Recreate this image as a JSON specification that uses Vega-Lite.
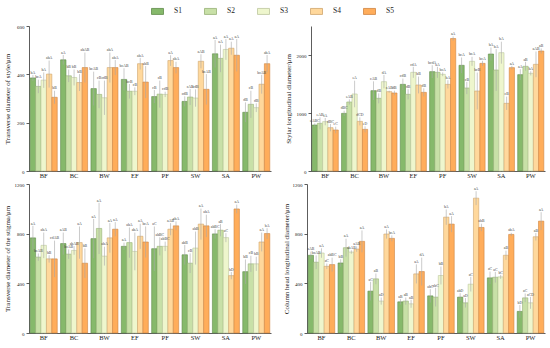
{
"$schema": "https://vega.github.io/schema/vega-lite/v6.json",
"padding": {"left": 3, "top": 4, "right": 2, "bottom": 2},
"config": {
  "font": "Liberation Serif",
  "view": {"stroke": null},
  "axis": {"grid": false, "domainColor": "#333", "tickColor": "#333", "labelColor": "#222", "titleColor": "#222", "labelFontSize": 5, "titleFontSize": 7, "titleFontWeight": "normal", "tickSize": 3, "labelPadding": 2, "domainWidth": 0.8, "tickWidth": 0.8},
  "legend": {"title": null}
},
"datasets": {
"tl": [
{"c":"BF","s":"S1","v":385,"lo":373,"hi":397,"l":"bA"},
{"c":"BF","s":"S2","v":350,"lo":322,"hi":378,"l":"bcA"},
{"c":"BF","s":"S3","v":376,"lo":344,"hi":408,"l":"bA"},
{"c":"BF","s":"S4","v":401,"lo":345,"hi":457,"l":"abA"},
{"c":"BF","s":"S5","v":305,"lo":278,"hi":332,"l":"bB"},
{"c":"BC","s":"S1","v":460,"lo":440,"hi":480,"l":"aA"},
{"c":"BC","s":"S2","v":394,"lo":368,"hi":420,"l":"bB"},
{"c":"BC","s":"S3","v":387,"lo":354,"hi":420,"l":"bB"},
{"c":"BC","s":"S4","v":366,"lo":331,"hi":401,"l":"bB"},
{"c":"BC","s":"S5","v":428,"lo":366,"hi":490,"l":"abAB"},
{"c":"BW","s":"S1","v":341,"lo":271,"hi":411,"l":"bcAB"},
{"c":"BW","s":"S2","v":317,"lo":260,"hi":374,"l":"cB"},
{"c":"BW","s":"S3","v":303,"lo":232,"hi":374,"l":"cdB"},
{"c":"BW","s":"S4","v":428,"lo":366,"hi":490,"l":"abA"},
{"c":"BW","s":"S5","v":428,"lo":397,"hi":459,"l":"abA"},
{"c":"EF","s":"S1","v":379,"lo":333,"hi":425,"l":"bcAB"},
{"c":"EF","s":"S2","v":330,"lo":300,"hi":360,"l":"bcB"},
{"c":"EF","s":"S3","v":330,"lo":314,"hi":346,"l":"cB"},
{"c":"EF","s":"S4","v":444,"lo":420,"hi":468,"l":"abA"},
{"c":"EF","s":"S5","v":368,"lo":302,"hi":434,"l":"abB"},
{"c":"PF","s":"S1","v":308,"lo":281,"hi":335,"l":"cB"},
{"c":"PF","s":"S2","v":318,"lo":262,"hi":374,"l":"cB"},
{"c":"PF","s":"S3","v":317,"lo":306,"hi":328,"l":"cdB"},
{"c":"PF","s":"S4","v":457,"lo":435,"hi":479,"l":"aA"},
{"c":"PF","s":"S5","v":428,"lo":404,"hi":452,"l":"abA"},
{"c":"SW","s":"S1","v":288,"lo":267,"hi":309,"l":"cdB"},
{"c":"SW","s":"S2","v":306,"lo":273,"hi":339,"l":"cAB"},
{"c":"SW","s":"S3","v":302,"lo":266,"hi":338,"l":"cdB"},
{"c":"SW","s":"S4","v":454,"lo":425,"hi":483,"l":"aAB"},
{"c":"SW","s":"S5","v":338,"lo":275,"hi":401,"l":"bcAB"},
{"c":"SA","s":"S1","v":485,"lo":428,"hi":542,"l":"aA"},
{"c":"SA","s":"S2","v":466,"lo":409,"hi":523,"l":"aA"},
{"c":"SA","s":"S3","v":503,"lo":460,"hi":546,"l":"aA"},
{"c":"SA","s":"S4","v":508,"lo":481,"hi":535,"l":"aA"},
{"c":"SA","s":"S5","v":479,"lo":412,"hi":546,"l":"aA"},
{"c":"PW","s":"S1","v":243,"lo":202,"hi":284,"l":"dB"},
{"c":"PW","s":"S2","v":276,"lo":220,"hi":332,"l":"cB"},
{"c":"PW","s":"S3","v":262,"lo":244,"hi":280,"l":"dB"},
{"c":"PW","s":"S4","v":359,"lo":320,"hi":398,"l":"bcAB"},
{"c":"PW","s":"S5","v":444,"lo":408,"hi":480,"l":"abA"}
],
"tr": [
{"c":"BF","s":"S1","v":793,"lo":764,"hi":822,"l":"eABC"},
{"c":"BF","s":"S2","v":822,"lo":719,"hi":925,"l":"eAB"},
{"c":"BF","s":"S3","v":851,"lo":788,"hi":914,"l":"fA"},
{"c":"BF","s":"S4","v":747,"lo":684,"hi":810,"l":"dBC"},
{"c":"BF","s":"S5","v":707,"lo":650,"hi":764,"l":"eC"},
{"c":"BC","s":"S1","v":994,"lo":948,"hi":1040,"l":"dBC"},
{"c":"BC","s":"S2","v":1190,"lo":1144,"hi":1236,"l":"eAB"},
{"c":"BC","s":"S3","v":1328,"lo":1099,"hi":1557,"l":"eA"},
{"c":"BC","s":"S4","v":856,"lo":787,"hi":925,"l":"dCD"},
{"c":"BC","s":"S5","v":718,"lo":666,"hi":770,"l":"eD"},
{"c":"BW","s":"S1","v":1385,"lo":1224,"hi":1546,"l":"cAB"},
{"c":"BW","s":"S2","v":1253,"lo":1167,"hi":1339,"l":"dB"},
{"c":"BW","s":"S3","v":1540,"lo":1425,"hi":1655,"l":"dA"},
{"c":"BW","s":"S4","v":1368,"lo":1351,"hi":1385,"l":"cAB"},
{"c":"BW","s":"S5","v":1345,"lo":1305,"hi":1385,"l":"dB"},
{"c":"EF","s":"S1","v":1494,"lo":1394,"hi":1594,"l":"cdB"},
{"c":"EF","s":"S2","v":1322,"lo":1235,"hi":1409,"l":"dB"},
{"c":"EF","s":"S3","v":1701,"lo":1606,"hi":1796,"l":"cdA"},
{"c":"EF","s":"S4","v":1483,"lo":1338,"hi":1628,"l":"bB"},
{"c":"EF","s":"S5","v":1356,"lo":1286,"hi":1426,"l":"dB"},
{"c":"PF","s":"S1","v":1713,"lo":1602,"hi":1824,"l":"bcdA"},
{"c":"PF","s":"S2","v":1701,"lo":1606,"hi":1796,"l":"aA"},
{"c":"PF","s":"S3","v":1667,"lo":1634,"hi":1700,"l":"bcA"},
{"c":"PF","s":"S4","v":1494,"lo":1423,"hi":1565,"l":"bA"},
{"c":"PF","s":"S5","v":2284,"lo":2247,"hi":2321,"l":"aA"},
{"c":"SW","s":"S1","v":1822,"lo":1687,"hi":1957,"l":"bcA"},
{"c":"SW","s":"S2","v":1431,"lo":1326,"hi":1536,"l":"cB"},
{"c":"SW","s":"S3","v":1891,"lo":1813,"hi":1969,"l":"bcA"},
{"c":"SW","s":"S4","v":1379,"lo":1061,"hi":1697,"l":"bcB"},
{"c":"SW","s":"S5","v":1856,"lo":1812,"hi":1900,"l":"bcA"},
{"c":"SA","s":"S1","v":2017,"lo":1904,"hi":2130,"l":"bA"},
{"c":"SA","s":"S2","v":1741,"lo":1380,"hi":2102,"l":"bA"},
{"c":"SA","s":"S3","v":2040,"lo":1851,"hi":2229,"l":"bA"},
{"c":"SA","s":"S4","v":1167,"lo":1052,"hi":1282,"l":"cB"},
{"c":"SA","s":"S5","v":1782,"lo":1751,"hi":1813,"l":"aA"},
{"c":"PW","s":"S1","v":1661,"lo":1567,"hi":1755,"l":"aA"},
{"c":"PW","s":"S2","v":1805,"lo":1728,"hi":1882,"l":"aB"},
{"c":"PW","s":"S3","v":1684,"lo":1648,"hi":1720,"l":"bA"},
{"c":"PW","s":"S4","v":1839,"lo":1617,"hi":2061,"l":"aAB"},
{"c":"PW","s":"S5","v":2069,"lo":2025,"hi":2113,"l":"aB"}
],
"bl": [
{"c":"BF","s":"S1","v":766,"lo":669,"hi":863,"l":"aA"},
{"c":"BF","s":"S2","v":611,"lo":581,"hi":641,"l":"bcAB"},
{"c":"BF","s":"S3","v":706,"lo":603,"hi":809,"l":"abA"},
{"c":"BF","s":"S4","v":597,"lo":567,"hi":627,"l":"bB"},
{"c":"BF","s":"S5","v":597,"lo":450,"hi":744,"l":"cdAB"},
{"c":"BC","s":"S1","v":720,"lo":631,"hi":809,"l":"aAB"},
{"c":"BC","s":"S2","v":635,"lo":597,"hi":673,"l":"bcAB"},
{"c":"BC","s":"S3","v":665,"lo":630,"hi":700,"l":"abAB"},
{"c":"BC","s":"S4","v":728,"lo":598,"hi":858,"l":"aA"},
{"c":"BC","s":"S5","v":562,"lo":443,"hi":681,"l":"bB"},
{"c":"BW","s":"S1","v":760,"lo":602,"hi":918,"l":"aA"},
{"c":"BW","s":"S2","v":842,"lo":636,"hi":1048,"l":"aA"},
{"c":"BW","s":"S3","v":619,"lo":543,"hi":695,"l":"abA"},
{"c":"BW","s":"S4","v":766,"lo":647,"hi":885,"l":"aA"},
{"c":"BW","s":"S5","v":836,"lo":779,"hi":893,"l":"aA"},
{"c":"EF","s":"S1","v":698,"lo":668,"hi":728,"l":"aA"},
{"c":"EF","s":"S2","v":728,"lo":606,"hi":850,"l":"abA"},
{"c":"EF","s":"S3","v":657,"lo":505,"hi":809,"l":"abA"},
{"c":"EF","s":"S4","v":779,"lo":678,"hi":880,"l":"aA"},
{"c":"EF","s":"S5","v":733,"lo":608,"hi":858,"l":"bcA"},
{"c":"PF","s":"S1","v":679,"lo":500,"hi":858,"l":"aC"},
{"c":"PF","s":"S2","v":698,"lo":625,"hi":771,"l":"abBC"},
{"c":"PF","s":"S3","v":698,"lo":660,"hi":736,"l":"abBC"},
{"c":"PF","s":"S4","v":836,"lo":787,"hi":885,"l":"aAB"},
{"c":"PF","s":"S5","v":863,"lo":827,"hi":899,"l":"abA"},
{"c":"SW","s":"S1","v":630,"lo":551,"hi":709,"l":"abB"},
{"c":"SW","s":"S2","v":562,"lo":483,"hi":641,"l":"cB"},
{"c":"SW","s":"S3","v":684,"lo":551,"hi":817,"l":"abB"},
{"c":"SW","s":"S4","v":877,"lo":752,"hi":1002,"l":"aA"},
{"c":"SW","s":"S5","v":863,"lo":773,"hi":953,"l":"abA"},
{"c":"SA","s":"S1","v":798,"lo":760,"hi":836,"l":"abBC"},
{"c":"SA","s":"S2","v":828,"lo":779,"hi":877,"l":"aB"},
{"c":"SA","s":"S3","v":768,"lo":732,"hi":804,"l":"aC"},
{"c":"SA","s":"S4","v":462,"lo":433,"hi":491,"l":"bD"},
{"c":"SA","s":"S5","v":999,"lo":964,"hi":1034,"l":"aA"},
{"c":"PW","s":"S1","v":494,"lo":396,"hi":592,"l":"bB"},
{"c":"PW","s":"S2","v":557,"lo":492,"hi":622,"l":"cB"},
{"c":"PW","s":"S3","v":557,"lo":500,"hi":614,"l":"bB"},
{"c":"PW","s":"S4","v":733,"lo":657,"hi":809,"l":"aA"},
{"c":"PW","s":"S5","v":801,"lo":758,"hi":844,"l":"bA"}
],
"br": [
{"c":"BF","s":"S1","v":626,"lo":597,"hi":655,"l":"aAB"},
{"c":"BF","s":"S2","v":570,"lo":515,"hi":625,"l":"bcAB"},
{"c":"BF","s":"S3","v":644,"lo":606,"hi":682,"l":"aA"},
{"c":"BF","s":"S4","v":537,"lo":515,"hi":559,"l":"aC"},
{"c":"BF","s":"S5","v":551,"lo":495,"hi":607,"l":"abBC"},
{"c":"BC","s":"S1","v":564,"lo":534,"hi":594,"l":"bB"},
{"c":"BC","s":"S2","v":687,"lo":615,"hi":759,"l":"aA"},
{"c":"BC","s":"S3","v":652,"lo":638,"hi":666,"l":"abAB"},
{"c":"BC","s":"S4","v":676,"lo":654,"hi":698,"l":"aAB"},
{"c":"BC","s":"S5","v":738,"lo":650,"hi":826,"l":"aA"},
{"c":"BW","s":"S1","v":337,"lo":262,"hi":412,"l":"aC"},
{"c":"BW","s":"S2","v":436,"lo":393,"hi":479,"l":"aB"},
{"c":"BW","s":"S3","v":257,"lo":228,"hi":286,"l":"aD"},
{"c":"BW","s":"S4","v":797,"lo":760,"hi":834,"l":"aA"},
{"c":"BW","s":"S5","v":762,"lo":738,"hi":786,"l":"bcA"},
{"c":"EF","s":"S1","v":251,"lo":229,"hi":273,"l":"aB"},
{"c":"EF","s":"S2","v":257,"lo":228,"hi":286,"l":"aB"},
{"c":"EF","s":"S3","v":235,"lo":203,"hi":267,"l":"aB"},
{"c":"EF","s":"S4","v":476,"lo":399,"hi":553,"l":"aA"},
{"c":"EF","s":"S5","v":495,"lo":383,"hi":607,"l":"dA"},
{"c":"PF","s":"S1","v":299,"lo":245,"hi":353,"l":"abC"},
{"c":"PF","s":"S2","v":289,"lo":214,"hi":364,"l":"abC"},
{"c":"PF","s":"S3","v":463,"lo":391,"hi":535,"l":"bB"},
{"c":"PF","s":"S4","v":933,"lo":871,"hi":995,"l":"bA"},
{"c":"PF","s":"S5","v":877,"lo":813,"hi":941,"l":"aA"},
{"c":"SW","s":"S1","v":289,"lo":257,"hi":321,"l":"abD"},
{"c":"SW","s":"S2","v":243,"lo":205,"hi":281,"l":"aD"},
{"c":"SW","s":"S3","v":393,"lo":334,"hi":452,"l":"aC"},
{"c":"SW","s":"S4","v":1086,"lo":1030,"hi":1142,"l":"aA"},
{"c":"SW","s":"S5","v":850,"lo":820,"hi":880,"l":"abB"},
{"c":"SA","s":"S1","v":444,"lo":393,"hi":495,"l":"aC"},
{"c":"SA","s":"S2","v":449,"lo":406,"hi":492,"l":"aC"},
{"c":"SA","s":"S3","v":452,"lo":436,"hi":468,"l":"bC"},
{"c":"SA","s":"S4","v":626,"lo":589,"hi":663,"l":"aB"},
{"c":"SA","s":"S5","v":794,"lo":781,"hi":807,"l":"abA"},
{"c":"PW","s":"S1","v":174,"lo":123,"hi":225,"l":"bD"},
{"c":"PW","s":"S2","v":283,"lo":248,"hi":318,"l":"aC"},
{"c":"PW","s":"S3","v":243,"lo":195,"hi":291,"l":"aCD"},
{"c":"PW","s":"S4","v":775,"lo":745,"hi":805,"l":"aB"},
{"c":"PW","s":"S5","v":901,"lo":829,"hi":973,"l":"aA"}
]
},
"resolve": {"scale": {"x": "independent", "y": "independent", "xOffset": "independent"}},
"spacing": 3,
"vconcat": [
{
"bounds": "flush",
"spacing": 40,
"resolve": {"scale": {"x": "independent", "y": "independent", "xOffset": "independent"}},
"hconcat": [
{
"width": 242, "height": 145,
"data": {"name": "tl"},
"encoding": {
  "x": {"field": "c", "type": "nominal", "sort": ["BF","BC","BW","EF","PF","SW","SA","PW"], "title": null, "scale": {"paddingInner": 0.11, "paddingOuter": 0.04}, "axis": {"labelAngle": 0, "labelFontSize": 6.5, "tickSize": -2, "labelPadding": 3}},
  "xOffset": {"field": "s", "type": "nominal", "sort": ["S1","S2","S3","S4","S5"], "scale": {"paddingInner": 0, "paddingOuter": 0}}
},
"layer": [
  {"mark": {"type": "bar", "strokeWidth": 0.6},
   "encoding": {
     "y": {"field": "v", "type": "quantitative", "title": "Transverse diameter of style/μm", "scale": {"domain": [0, 600], "nice": false}, "axis": {"values": [0,100,200,300,400,500,600], "format": "d", "titleX": -22, "titleBaseline": "middle"}},
     "fill": {"field": "s", "type": "nominal", "scale": {"domain": ["S1","S2","S3","S4","S5"], "range": ["#86b96b","#c8e0a7","#eef6cd","#ffd89c","#ffad5b"]},
       "legend": {"orient": "none", "legendX": 122, "legendY": -21.5, "direction": "horizontal", "symbolType": "M-1,-0.5H1V0.5H-1Z", "symbolSize": 144, "labelFontSize": 7.5, "labelOffset": 10, "columnPadding": 20, "symbolStrokeColor": "#8a8a7a", "symbolStrokeWidth": 0.8, "labelColor": "#222"}},
     "stroke": {"field": "s", "type": "nominal", "scale": {"domain": ["S1","S2","S3","S4","S5"], "range": ["#5f8c4a","#97b176","#bcc79e","#cfa56c","#cf8441"]}, "legend": null}
   }},
  {"mark": {"type": "rule", "color": "#a8a8a8", "strokeWidth": 0.6},
   "encoding": {"y": {"field": "lo", "type": "quantitative", "title": "Transverse diameter of style/μm"}, "y2": {"field": "hi"}}},
  {"mark": {"type": "text", "fontSize": 3.8, "baseline": "bottom", "dy": -0.3, "color": "#444"},
   "encoding": {"y": {"field": "hi", "type": "quantitative", "title": "Transverse diameter of style/μm"}, "text": {"field": "l"}}}
]
},
{
"width": 234, "height": 145,
"data": {"name": "tr"},
"encoding": {
  "x": {"field": "c", "type": "nominal", "sort": ["BF","BC","BW","EF","PF","SW","SA","PW"], "title": null, "scale": {"paddingInner": 0.11, "paddingOuter": 0.04}, "axis": {"labelAngle": 0, "labelFontSize": 6.5, "tickSize": -2, "labelPadding": 3}},
  "xOffset": {"field": "s", "type": "nominal", "sort": ["S1","S2","S3","S4","S5"], "scale": {"paddingInner": 0, "paddingOuter": 0}}
},
"layer": [
  {"mark": {"type": "bar", "strokeWidth": 0.6},
   "encoding": {
     "y": {"field": "v", "type": "quantitative", "title": "Stylar longitudinal diameter/μm", "scale": {"domain": [0, 2500], "nice": false}, "axis": {"values": [0,500,1000,1500,2000,2500], "format": "d", "titleX": -23, "titleBaseline": "middle"}},
     "fill": {"field": "s", "type": "nominal"},
     "stroke": {"field": "s", "type": "nominal", "legend": null}
   }},
  {"mark": {"type": "rule", "color": "#a8a8a8", "strokeWidth": 0.6},
   "encoding": {"y": {"field": "lo", "type": "quantitative", "title": "Stylar longitudinal diameter/μm"}, "y2": {"field": "hi"}}},
  {"mark": {"type": "text", "fontSize": 3.8, "baseline": "bottom", "dy": -0.3, "color": "#444"},
   "encoding": {"y": {"field": "hi", "type": "quantitative", "title": "Stylar longitudinal diameter/μm"}, "text": {"field": "l"}}}
]
}
]
},
{
"bounds": "flush",
"spacing": 36,
"resolve": {"scale": {"x": "independent", "y": "independent", "xOffset": "independent"}},
"hconcat": [
{
"width": 242, "height": 149,
"data": {"name": "bl"},
"encoding": {
  "x": {"field": "c", "type": "nominal", "sort": ["BF","BC","BW","EF","PF","SW","SA","PW"], "title": null, "scale": {"paddingInner": 0.11, "paddingOuter": 0.04}, "axis": {"labelAngle": 0, "labelFontSize": 6.5, "tickSize": -2, "labelPadding": 3}},
  "xOffset": {"field": "s", "type": "nominal", "sort": ["S1","S2","S3","S4","S5"], "scale": {"paddingInner": 0, "paddingOuter": 0}}
},
"layer": [
  {"mark": {"type": "bar", "strokeWidth": 0.6},
   "encoding": {
     "y": {"field": "v", "type": "quantitative", "title": "Transverse diameter of the stigma/μm", "scale": {"domain": [0, 1200], "nice": false}, "axis": {"values": [0,200,400,600,800,1000,1200], "format": "d", "titleX": -22, "titleBaseline": "middle"}},
     "fill": {"field": "s", "type": "nominal"},
     "stroke": {"field": "s", "type": "nominal", "legend": null}
   }},
  {"mark": {"type": "rule", "color": "#a8a8a8", "strokeWidth": 0.6},
   "encoding": {"y": {"field": "lo", "type": "quantitative", "title": "Transverse diameter of the stigma/μm"}, "y2": {"field": "hi"}}},
  {"mark": {"type": "text", "fontSize": 3.8, "baseline": "bottom", "dy": -0.3, "color": "#444"},
   "encoding": {"y": {"field": "hi", "type": "quantitative", "title": "Transverse diameter of the stigma/μm"}, "text": {"field": "l"}}}
]
},
{
"width": 238, "height": 149,
"data": {"name": "br"},
"encoding": {
  "x": {"field": "c", "type": "nominal", "sort": ["BF","BC","BW","EF","PF","SW","SA","PW"], "title": null, "scale": {"paddingInner": 0.11, "paddingOuter": 0.04}, "axis": {"labelAngle": 0, "labelFontSize": 6.5, "tickSize": -2, "labelPadding": 3}},
  "xOffset": {"field": "s", "type": "nominal", "sort": ["S1","S2","S3","S4","S5"], "scale": {"paddingInner": 0, "paddingOuter": 0}}
},
"layer": [
  {"mark": {"type": "bar", "strokeWidth": 0.6},
   "encoding": {
     "y": {"field": "v", "type": "quantitative", "title": "Column head longitudinal diameter/μm", "scale": {"domain": [0, 1200], "nice": false}, "axis": {"values": [0,200,400,600,800,1000,1200], "format": "d", "titleX": -21, "titleBaseline": "middle"}},
     "fill": {"field": "s", "type": "nominal"},
     "stroke": {"field": "s", "type": "nominal", "legend": null}
   }},
  {"mark": {"type": "rule", "color": "#a8a8a8", "strokeWidth": 0.6},
   "encoding": {"y": {"field": "lo", "type": "quantitative", "title": "Column head longitudinal diameter/μm"}, "y2": {"field": "hi"}}},
  {"mark": {"type": "text", "fontSize": 3.8, "baseline": "bottom", "dy": -0.3, "color": "#444"},
   "encoding": {"y": {"field": "hi", "type": "quantitative", "title": "Column head longitudinal diameter/μm"}, "text": {"field": "l"}}}
]
}
]
}
]
}
